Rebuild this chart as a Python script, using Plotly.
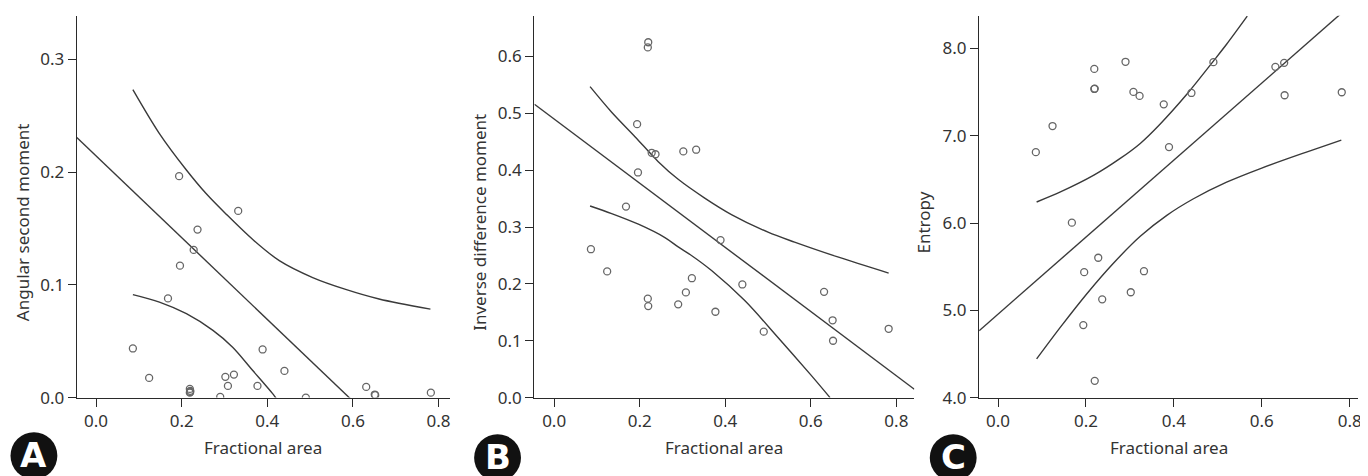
import plotly.graph_objects as go

# The viewer page shifts the figure (body margin) and squeezes it slightly
# vertically; map reference screen pixels to paper pixels accordingly.
OFFX, OFFY, SY = 8.0, 8.3, 0.975
W, H = 1360, 484

# ---------------- data ----------------
frac_area = [0.086, 0.124, 0.168, 0.194, 0.196, 0.219, 0.219, 0.220, 0.220, 0.228,
             0.237, 0.290, 0.302, 0.308, 0.322, 0.332, 0.377, 0.389, 0.440, 0.490,
             0.631, 0.651, 0.652, 0.782]

asm_values = [0.0436, 0.0175, 0.088, 0.1964, 0.117, 0.0077, 0.0044, 0.006, 0.005, 0.131,
              0.149, 0.0006, 0.0184, 0.0104, 0.0204, 0.1656, 0.0104, 0.0427, 0.0237, 0.0,
              0.0095, 0.0027, 0.0022, 0.0044]

idm_values = [0.261, 0.222, 0.336, 0.481, 0.396, 0.616, 0.174, 0.625, 0.161, 0.4306,
              0.428, 0.164, 0.433, 0.185, 0.210, 0.436, 0.151, 0.277, 0.199, 0.116,
              0.186, 0.136, 0.100, 0.121]

entropy_values = [6.812, 7.111, 6.004, 4.831, 5.437, 7.766, 7.536, 4.192, 7.54, 5.602,
                  5.126, 7.847, 5.207, 7.502, 7.456, 5.448, 7.360, 6.870, 7.490, 7.843,
                  7.789, 7.835, 7.464, 7.498]

# regression lines (intercept, slope)
asm_fit = (0.2144, -0.3626)
idm_fit = (0.490, -0.5645)
ent_fit = (4.956, 4.413)

# 95% confidence band curves
asm_ci_up_x = [0.086, 0.148, 0.211, 0.257, 0.304, 0.366, 0.428, 0.506, 0.583, 0.661, 0.781]
asm_ci_up_y = [0.2732, 0.2342, 0.2019, 0.181, 0.1627, 0.1402, 0.1215, 0.1065, 0.0960, 0.0875, 0.0785]
asm_ci_lo_x = [0.086, 0.148, 0.211, 0.273, 0.319, 0.366, 0.416, 0.421]
asm_ci_lo_y = [0.0913, 0.0847, 0.0744, 0.0596, 0.0447, 0.024, 0.0018, -0.001]

idm_ci_up_x = [0.084, 0.1345, 0.189, 0.2434, 0.290, 0.352, 0.4145, 0.5, 0.562, 0.663, 0.782]
idm_ci_up_y = [0.547, 0.502, 0.459, 0.415, 0.384, 0.351, 0.322, 0.291, 0.2735, 0.2474, 0.219]
idm_ci_lo_x = [0.084, 0.1345, 0.197, 0.259, 0.290, 0.321, 0.368, 0.4456, 0.5233, 0.6, 0.645]
idm_ci_lo_y = [0.337, 0.3237, 0.305, 0.2815, 0.265, 0.250, 0.2235, 0.1706, 0.1058, 0.040, 0.0]

ent_ci_up_x = [0.0878, 0.142, 0.218, 0.278, 0.3236, 0.369, 0.4295, 0.490, 0.520, 0.567]
ent_ci_up_y = [6.241, 6.356, 6.548, 6.740, 6.912, 7.135, 7.475, 7.855, 8.048, 8.370]
ent_ci_lo_x = [0.0878, 0.142, 0.2026, 0.263, 0.3236, 0.384, 0.4447, 0.520, 0.6, 0.7, 0.781]
ent_ci_lo_y = [4.443, 4.807, 5.193, 5.542, 5.848, 6.088, 6.278, 6.468, 6.630, 6.810, 6.950]

y_titles = ["Angular second moment", "Inverse difference moment", "Entropy"]
x_title = "Fractional area"
panel_letters = ["A", "B", "C"]

# ---------------- layout geometry (screen pixels of the reference) ----------------
px_x = [(77, 451), (536, 917), (982, 1362)]
px_top, px_bot = 16, 397
x_ranges = [[-0.045, 0.826], [-0.046, 0.842], [-0.043, 0.819]]
y_ranges = [[0, 0.3387], [0, 0.6717], [4.0, 8.375]]
y_dticks = [0.1, 0.1, 1.0]
ytitle_px = [22, 481, 926]
ytitle_y = 222
xtitle_y = 447
label_px = [(34, 455), (499, 457), (956, 457)]


def fx(sx):
    return (sx - OFFX) / W


def fy(sy):
    return 1 - ((sy - OFFY) / SY) / H


FONT = "Noto Sans"
TXT = "#333333"
AX = "#2a2a2a"
LINE = "#3a3a3a"

panels = [
    (asm_values, asm_fit, asm_ci_up_x, asm_ci_up_y, asm_ci_lo_x, asm_ci_lo_y),
    (idm_values, idm_fit, idm_ci_up_x, idm_ci_up_y, idm_ci_lo_x, idm_ci_lo_y),
    (entropy_values, ent_fit, ent_ci_up_x, ent_ci_up_y, ent_ci_lo_x, ent_ci_lo_y),
]

fig = go.Figure()
layout = dict(
    width=W, height=H, autosize=False,
    margin=dict(l=0, r=0, t=0, b=0),
    paper_bgcolor="white", plot_bgcolor="white",
    showlegend=False,
    font=dict(family=FONT, size=17, color=TXT),
)
annotations = []
shapes = []

for i, (yv, fit, ux, uy, lx, ly) in enumerate(panels):
    n = "" if i == 0 else str(i + 1)
    xa, ya = "x" + n, "y" + n
    x0, x1 = x_ranges[i]
    fig.add_trace(go.Scatter(x=[x0, x1], y=[fit[0] + fit[1] * x0, fit[0] + fit[1] * x1],
                             mode="lines", line=dict(color=LINE, width=1.4),
                             xaxis=xa, yaxis=ya, hoverinfo="skip"))
    fig.add_trace(go.Scatter(x=ux, y=uy, mode="lines",
                             line=dict(color=LINE, width=1.4, shape="spline", smoothing=0.9),
                             xaxis=xa, yaxis=ya, hoverinfo="skip"))
    fig.add_trace(go.Scatter(x=lx, y=ly, mode="lines",
                             line=dict(color=LINE, width=1.4, shape="spline", smoothing=0.9),
                             xaxis=xa, yaxis=ya, hoverinfo="skip"))
    fig.add_trace(go.Scatter(x=frac_area, y=yv, mode="markers",
                             marker=dict(symbol="circle-open", size=7, color="#666666",
                                         line=dict(width=1.3, color="#666666")),
                             xaxis=xa, yaxis=ya))

    dom_x = [fx(px_x[i][0]), min(fx(px_x[i][1]), 1.0)]
    dom_y = [fy(px_bot), fy(px_top)]
    axis_common = dict(showgrid=False, zeroline=False, showline=True, linecolor=AX,
                       linewidth=1.4, ticks="outside", ticklen=8, tickwidth=1.4,
                       tickcolor=AX, tickformat=".1f", ticklabeloverflow="allow",
                       tickfont=dict(family=FONT, size=17, color=TXT))
    layout["xaxis" + n] = dict(domain=dom_x, range=x_ranges[i], dtick=0.2, tick0=0,
                               anchor=ya, **axis_common)
    layout["yaxis" + n] = dict(domain=dom_y, range=y_ranges[i], dtick=y_dticks[i],
                               tick0=0, anchor=xa, **axis_common)

    annotations.append(dict(text=x_title, xref="paper", yref="paper",
                            x=fx((px_x[i][0] + px_x[i][1]) / 2), y=fy(xtitle_y),
                            xanchor="center", yanchor="middle", showarrow=False,
                            font=dict(family=FONT, size=17, color=TXT)))
    annotations.append(dict(text=y_titles[i], xref="paper", yref="paper",
                            x=fx(ytitle_px[i]), y=fy(ytitle_y), textangle=-90,
                            xanchor="center", yanchor="middle", showarrow=False,
                            font=dict(family=FONT, size=17, color=TXT)))

    cx, cy = label_px[i]
    r = 23.5
    shapes.append(dict(type="circle", xref="paper", yref="paper",
                       x0=fx(cx - r), x1=fx(cx + r),
                       y0=fy(cy + r), y1=fy(cy - r),
                       fillcolor="#111111", line=dict(width=0)))
    annotations.append(dict(text="<b>" + panel_letters[i] + "</b>", xref="paper", yref="paper",
                            x=fx(cx), y=fy(cy - 1), xanchor="center", yanchor="middle",
                            showarrow=False,
                            font=dict(family="DejaVu Sans", size=34, color="white")))

layout["annotations"] = annotations
layout["shapes"] = shapes
fig.update_layout(**layout)
fig.write_html("out.html")
